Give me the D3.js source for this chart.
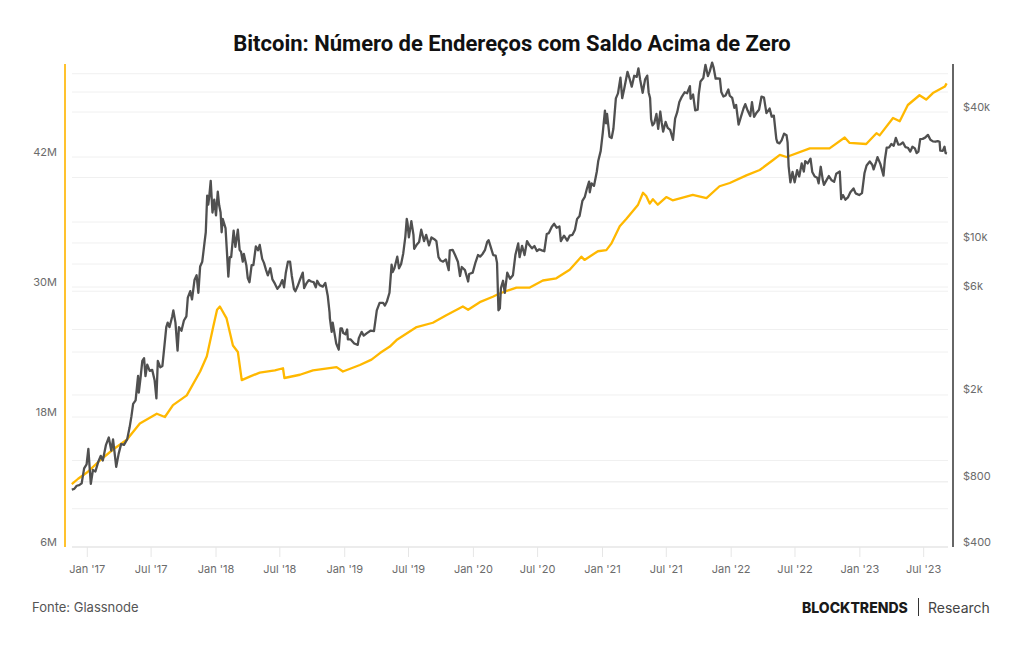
<!DOCTYPE html>
<html>
<head>
<meta charset="utf-8">
<script src="https://cdn.jsdelivr.net/npm/d3@7"></script>
<style>
  body { margin: 0; background: #fff; }
  svg { display: block; }
</style>
</head>
<body>
<svg id="chart" width="1024" height="645"></svg>
<script>
// preço do bitcoin (USD, eixo direito, escala log)
const priceSeries = [
  ["2016-11-18",735],["2016-11-25",740],["2016-12-02",765],["2016-12-09",770],["2016-12-16",785],["2016-12-23",920],
  ["2016-12-30",960],["2017-01-04",1130],["2017-01-08",910],["2017-01-11",780],["2017-01-17",905],["2017-01-24",890],
  ["2017-02-01",985],["2017-02-08",1050],["2017-02-14",1000],["2017-02-23",1180],["2017-03-03",1275],["2017-03-10",1110],
  ["2017-03-15",1250],["2017-03-24",935],["2017-03-31",1075],["2017-04-07",1190],["2017-04-15",1180],["2017-04-24",1250],
  ["2017-05-01",1420],["2017-05-06",1590],["2017-05-11",1820],["2017-05-18",1890],["2017-05-25",2450],["2017-05-27",2050],
  ["2017-06-01",2400],["2017-06-06",2870],["2017-06-11",2950],["2017-06-15",2440],["2017-06-20",2760],["2017-06-27",2580],
  ["2017-07-04",2610],["2017-07-11",2330],["2017-07-16",1930],["2017-07-20",2870],["2017-07-27",2680],["2017-08-02",2720],
  ["2017-08-08",3400],["2017-08-13",4100],["2017-08-17",4300],["2017-08-22",4100],["2017-08-30",4600],["2017-09-02",4900],
  ["2017-09-08",4300],["2017-09-14",3200],["2017-09-18",4100],["2017-09-25",3950],["2017-10-02",4400],["2017-10-09",4600],
  ["2017-10-13",5600],["2017-10-20",6000],["2017-10-25",5500],["2017-11-01",6750],["2017-11-07",7100],["2017-11-12",5900],
  ["2017-11-17",7800],["2017-11-23",8200],["2017-11-29",9900],["2017-12-03",11200],["2017-12-07",16500],["2017-12-10",15000],
  ["2017-12-13",16400],["2017-12-17",19300],["2017-12-22",13800],["2017-12-27",15800],["2018-01-01",13400],["2018-01-06",17200],
  ["2018-01-10",14900],["2018-01-14",13800],["2018-01-17",11200],["2018-01-20",12900],["2018-01-28",11700],["2018-02-01",9100],
  ["2018-02-05",7000],["2018-02-09",8600],["2018-02-13",8600],["2018-02-20",11400],["2018-02-25",9600],["2018-03-04",11500],
  ["2018-03-09",9300],["2018-03-13",9100],["2018-03-18",8200],["2018-03-21",8900],["2018-03-28",7900],["2018-04-01",6900],
  ["2018-04-06",6600],["2018-04-12",7900],["2018-04-17",7900],["2018-04-24",9650],["2018-04-30",9250],["2018-05-05",9800],
  ["2018-05-12",8450],["2018-05-17",8100],["2018-05-23",7500],["2018-05-28",7100],["2018-06-04",7650],["2018-06-10",6800],
  ["2018-06-17",6500],["2018-06-24",6150],["2018-07-01",6350],["2018-07-08",6750],["2018-07-13",6250],["2018-07-18",7300],
  ["2018-07-24",8200],["2018-07-30",8200],["2018-08-04",7050],["2018-08-10",6150],["2018-08-14",6000],["2018-08-20",6300],
  ["2018-08-26",6700],["2018-09-04",7300],["2018-09-08",6200],["2018-09-14",6500],["2018-09-21",6750],["2018-09-28",6650],
  ["2018-10-05",6600],["2018-10-11",6250],["2018-10-15",6700],["2018-10-22",6400],["2018-10-31",6300],["2018-11-07",6550],
  ["2018-11-14",5700],["2018-11-19",4800],["2018-11-20",4500],["2018-11-25",3900],["2018-11-28",4300],["2018-12-03",3850],
  ["2018-12-08",3450],["2018-12-15",3230],["2018-12-20",4050],["2018-12-24",4050],["2018-12-28",3850],["2019-01-03",3800],
  ["2019-01-08",4000],["2019-01-10",3600],["2019-01-18",3600],["2019-01-28",3450],["2019-02-07",3400],["2019-02-10",3650],
  ["2019-02-18",3900],["2019-02-24",3750],["2019-03-05",3850],["2019-03-15",3950],["2019-03-25",3930],["2019-04-02",4900],
  ["2019-04-10",5300],["2019-04-20",5300],["2019-04-25",5150],["2019-05-01",5400],["2019-05-08",5900],["2019-05-14",7950],
  ["2019-05-17",7350],["2019-05-22",7650],["2019-05-30",8650],["2019-06-04",7650],["2019-06-10",8000],["2019-06-16",8950],
  ["2019-06-22",10700],["2019-06-26",12900],["2019-06-28",12400],["2019-07-02",10600],["2019-07-09",12600],["2019-07-15",10900],
  ["2019-07-17",9400],["2019-07-24",9800],["2019-07-31",10100],["2019-08-06",11500],["2019-08-14",10200],["2019-08-20",10900],
  ["2019-08-28",9750],["2019-09-04",10600],["2019-09-12",10400],["2019-09-18",10200],["2019-09-24",8600],["2019-09-30",8300],
  ["2019-10-07",8200],["2019-10-15",8400],["2019-10-23",7500],["2019-10-26",9250],["2019-11-03",9300],["2019-11-10",8800],
  ["2019-11-18",8200],["2019-11-24",7050],["2019-11-29",7750],["2019-12-08",7500],["2019-12-17",6650],["2019-12-20",7200],
  ["2019-12-30",7300],["2020-01-07",8150],["2020-01-14",8800],["2020-01-20",8650],["2020-01-27",8900],["2020-02-03",9300],
  ["2020-02-09",10100],["2020-02-13",10300],["2020-02-19",9600],["2020-02-26",8800],["2020-03-04",8750],["2020-03-08",8100],
  ["2020-03-12",4900],["2020-03-16",5000],["2020-03-19",6200],["2020-03-25",6700],["2020-03-30",5900],["2020-04-06",7300],
  ["2020-04-14",6850],["2020-04-22",7100],["2020-04-29",8800],["2020-05-07",9950],["2020-05-11",8600],["2020-05-18",9700],
  ["2020-05-25",8800],["2020-06-01",10200],["2020-06-08",9750],["2020-06-15",9450],["2020-06-22",9680],["2020-06-29",9180],
  ["2020-07-06",9350],["2020-07-13",9250],["2020-07-20",9160],["2020-07-27",11000],["2020-08-02",11100],["2020-08-10",11850],
  ["2020-08-17",12250],["2020-08-24",11750],["2020-09-01",11900],["2020-09-05",10200],["2020-09-14",10800],["2020-09-23",10250],
  ["2020-09-30",10800],["2020-10-08",10900],["2020-10-15",11500],["2020-10-21",12900],["2020-10-28",13300],["2020-11-05",15600],
  ["2020-11-12",16300],["2020-11-18",17800],["2020-11-24",19150],["2020-11-26",17100],["2020-12-01",18800],["2020-12-08",18300],
  ["2020-12-16",21300],["2020-12-20",23800],["2020-12-27",26500],["2021-01-02",32200],["2021-01-08",40600],["2021-01-11",35500],
  ["2021-01-14",39200],["2021-01-21",30800],["2021-01-27",30400],["2021-02-01",33500],["2021-02-08",46200],["2021-02-14",48700],
  ["2021-02-21",57500],["2021-02-26",46300],["2021-03-03",50500],["2021-03-13",61200],["2021-03-18",57600],["2021-03-25",52300],
  ["2021-04-01",58700],["2021-04-08",58000],["2021-04-13",63500],["2021-04-18",56200],["2021-04-25",49000],["2021-05-02",56600],
  ["2021-05-08",58800],["2021-05-12",49200],["2021-05-16",46400],["2021-05-19",37000],["2021-05-23",34700],["2021-05-28",35600],
  ["2021-06-03",39200],["2021-06-08",33500],["2021-06-14",40200],["2021-06-18",35800],["2021-06-22",32500],["2021-06-29",36000],
  ["2021-07-05",33800],["2021-07-12",33100],["2021-07-20",29800],["2021-07-26",37300],["2021-08-01",39900],["2021-08-07",44500],
  ["2021-08-14",47000],["2021-08-22",49300],["2021-08-29",48800],["2021-09-06",52600],["2021-09-08",46000],["2021-09-15",48100],
  ["2021-09-21",40700],["2021-09-28",41000],["2021-10-01",48200],["2021-10-06",55300],["2021-10-14",57300],["2021-10-20",65900],
  ["2021-10-27",58500],["2021-11-01",61300],["2021-11-08",67500],["2021-11-12",64200],["2021-11-18",56900],["2021-11-24",57100],
  ["2021-11-30",57000],["2021-12-04",49400],["2021-12-10",47100],["2021-12-16",47600],["2021-12-24",50800],["2021-12-28",47500],
  ["2022-01-04",46400],["2022-01-10",41800],["2022-01-15",43100],["2022-01-22",35000],["2022-01-28",37700],["2022-02-05",41500],
  ["2022-02-10",43500],["2022-02-17",40500],["2022-02-24",38300],["2022-03-01",44400],["2022-03-07",38000],["2022-03-14",39700],
  ["2022-03-21",41000],["2022-03-28",47100],["2022-04-04",46600],["2022-04-11",39500],["2022-04-20",41500],["2022-04-26",38100],
  ["2022-05-02",38500],["2022-05-09",30100],["2022-05-12",29000],["2022-05-18",28700],["2022-05-24",29600],["2022-05-31",31800],
  ["2022-06-07",31300],["2022-06-10",29000],["2022-06-13",22500],["2022-06-18",19000],["2022-06-24",21200],["2022-06-30",19000],
  ["2022-07-07",21600],["2022-07-13",20200],["2022-07-20",23200],["2022-07-26",21300],["2022-07-30",23800],["2022-08-06",23200],
  ["2022-08-14",24400],["2022-08-19",21200],["2022-08-26",20200],["2022-09-02",19950],["2022-09-06",18800],["2022-09-12",22400],
  ["2022-09-18",19400],["2022-09-21",18500],["2022-09-28",19400],["2022-10-05",20300],["2022-10-13",19400],["2022-10-20",19100],
  ["2022-10-26",20800],["2022-11-05",21300],["2022-11-09",15900],["2022-11-14",16600],["2022-11-21",15800],["2022-11-28",16200],
  ["2022-12-05",17100],["2022-12-14",17800],["2022-12-20",16900],["2022-12-30",16600],["2023-01-07",16950],["2023-01-14",20900],
  ["2023-01-20",22700],["2023-01-29",23700],["2023-02-05",22900],["2023-02-09",21800],["2023-02-16",23600],["2023-02-20",24800],
  ["2023-02-28",23100],["2023-03-09",20400],["2023-03-13",24200],["2023-03-18",27400],["2023-03-25",27500],["2023-03-31",28500],
  ["2023-04-07",28000],["2023-04-13",30400],["2023-04-20",28300],["2023-04-26",28400],["2023-05-03",29000],["2023-05-10",27600],
  ["2023-05-17",27400],["2023-05-24",26300],["2023-05-30",27700],["2023-06-06",27200],["2023-06-11",25900],["2023-06-16",26300],
  ["2023-06-21",30000],["2023-06-28",30100],["2023-07-05",30500],["2023-07-13",31400],["2023-07-20",29800],["2023-07-27",29300],
  ["2023-08-03",29200],["2023-08-10",29400],["2023-08-15",29200],["2023-08-17",26600],["2023-08-24",26500],["2023-08-29",27700],
  ["2023-09-01",25900],["2023-09-05",25800]
];

// endereços com saldo > 0 (milhões, eixo esquerdo)
const addressSeries = [
  ["2016-11-18",11.8],["2016-12-06",12.3],["2017-01-01",12.9],["2017-02-06",14.0],["2017-03-15",15.0],["2017-04-23",15.9],
  ["2017-05-30",17.4],["2017-07-17",18.3],["2017-08-09",18.0],["2017-09-01",19.1],["2017-10-10",20.0],["2017-11-17",22.2],
  ["2017-12-06",23.6],["2017-12-24",26.3],["2018-01-04",27.9],["2018-01-12",28.2],["2018-01-31",27.1],["2018-02-18",24.6],
  ["2018-03-04",24.0],["2018-03-15",21.4],["2018-04-05",21.7],["2018-05-05",22.1],["2018-06-17",22.3],["2018-07-10",22.5],
  ["2018-07-14",21.6],["2018-08-27",21.9],["2018-10-03",22.3],["2018-12-09",22.6],["2018-12-27",22.2],["2019-02-13",22.8],
  ["2019-03-18",23.3],["2019-04-11",23.9],["2019-05-09",24.5],["2019-05-28",25.1],["2019-07-24",26.3],["2019-09-08",26.7],
  ["2019-10-16",27.4],["2019-12-02",28.2],["2019-12-17",27.9],["2020-01-19",28.6],["2020-02-25",29.1],["2020-03-15",29.4],
  ["2020-05-02",29.95],["2020-06-09",29.95],["2020-07-16",30.6],["2020-08-23",30.8],["2020-09-30",31.6],["2020-11-02",32.8],
  ["2020-11-11",32.5],["2020-12-19",33.3],["2021-01-12",33.4],["2021-01-26",34.0],["2021-02-19",35.6],["2021-03-10",36.3],
  ["2021-04-12",37.6],["2021-04-26",38.7],["2021-05-05",38.4],["2021-05-15",37.7],["2021-05-24",38.1],["2021-06-07",37.6],
  ["2021-07-01",38.3],["2021-07-19",38.0],["2021-09-14",38.5],["2021-10-23",38.2],["2021-11-29",39.3],["2021-12-28",39.6],
  ["2022-02-13",40.3],["2022-03-23",40.8],["2022-04-29",41.7],["2022-05-19",42.2],["2022-06-07",42.0],["2022-08-12",42.8],
  ["2022-10-07",42.8],["2022-11-19",43.8],["2022-12-03",43.3],["2023-01-19",43.2],["2023-02-17",44.2],["2023-02-26",44.0],
  ["2023-04-05",45.6],["2023-04-24",45.3],["2023-05-17",46.8],["2023-06-19",47.7],["2023-07-08",47.3],["2023-07-27",47.9],
  ["2023-08-30",48.5],["2023-09-04",48.8]
];

const xTickDates = ["2017-01-01","2017-07-01","2018-01-01","2018-07-01","2019-01-01","2019-07-01","2020-01-01",
  "2020-07-01","2021-01-01","2021-07-01","2022-01-01","2022-07-01","2023-01-01","2023-07-01"];
const leftTicks = [6, 18, 30, 42];               // milhões, com rótulo
const leftGrid = [6, 12, 18, 24, 30, 36, 42, 48];
const rightTicks = [400, 800, 2000, 6000, 10000, 40000];
const rightGrid = [400, 600, 800, 1000, 2000, 4000, 6000, 8000, 10000, 20000, 40000, 60000];

const svg = d3.select("#chart");
const plot = { left: 72, right: 948, top: 64, bottom: 547 };
const parse = d3.utcParse("%Y-%m-%d");

svg.append("rect").attr("width", 1024).attr("height", 645).attr("fill", "#fff");

const x = d3.scaleUtc()
  .domain([parse("2017-01-01"), parse("2023-07-01")])
  .range([87.3, 923.7]);
const yLeft = d3.scaleLinear().domain([6, 42]).range([547, 157]);
const yRight = d3.scaleLog().domain([400, 40000]).range([547, 112]);

// grade
const grid = svg.append("g");
grid.selectAll(".gl").data(leftGrid.slice(1)).join("line")
  .attr("x1", plot.left).attr("x2", plot.right)
  .attr("y1", d => yLeft(d)).attr("y2", d => yLeft(d))
  .attr("stroke", "#f0f0f0").attr("stroke-width", 1);
grid.selectAll(".gr").data(rightGrid.slice(1)).join("line")
  .attr("x1", plot.left).attr("x2", plot.right)
  .attr("y1", d => yRight(d)).attr("y2", d => yRight(d))
  .attr("stroke", "#f0f0f0").attr("stroke-width", 1);

// eixo x
svg.append("line")
  .attr("x1", plot.left).attr("x2", plot.right)
  .attr("y1", plot.bottom).attr("y2", plot.bottom)
  .attr("stroke", "#e6e6e6").attr("stroke-width", 1.5);
const fmt = d3.utcFormat("%b '%y");
const xg = svg.append("g");
xg.selectAll("line").data(xTickDates).join("line")
  .attr("x1", d => x(parse(d))).attr("x2", d => x(parse(d)))
  .attr("y1", plot.bottom).attr("y2", plot.bottom + 10)
  .attr("stroke", "#e6e6e6");
xg.selectAll("text").data(xTickDates).join("text")
  .attr("x", d => x(parse(d))).attr("y", 573)
  .attr("text-anchor", "middle")
  .attr("font-family", "Inter, sans-serif").attr("font-size", 11).attr("fill", "#6b6b6b")
  .text(d => fmt(parse(d)));

// eixo esquerdo
svg.append("line")
  .attr("x1", 65).attr("x2", 65).attr("y1", plot.top).attr("y2", plot.bottom)
  .attr("stroke", "#ffc22e").attr("stroke-width", 2);
svg.append("g").selectAll("text").data(leftTicks).join("text")
  .attr("x", 57).attr("y", d => yLeft(d) - 1.5)
  .attr("text-anchor", "end")
  .attr("font-family", "Inter, sans-serif").attr("font-size", 11).attr("fill", "#6b6b6b")
  .text(d => d + "M");

// eixo direito
svg.append("line")
  .attr("x1", 953).attr("x2", 953).attr("y1", plot.top).attr("y2", plot.bottom)
  .attr("stroke", "#666").attr("stroke-width", 2);
svg.append("g").selectAll("text").data(rightTicks).join("text")
  .attr("x", 963).attr("y", d => yRight(d) - 1.5)
  .attr("font-family", "Inter, sans-serif").attr("font-size", 11).attr("fill", "#6b6b6b")
  .text(d => d >= 1000 ? "$" + d / 1000 + "k" : "$" + d);

// séries
const addrLine = d3.line()
  .x(d => x(parse(d[0]))).y(d => yLeft(d[1]));
const priceLine = d3.line()
  .x(d => x(parse(d[0]))).y(d => yRight(d[1]));

svg.append("path").datum(addressSeries)
  .attr("d", addrLine)
  .attr("fill", "none").attr("stroke", "#ffb800").attr("stroke-width", 2.3)
  .attr("stroke-linejoin", "round");
svg.append("path").datum(priceSeries)
  .attr("d", priceLine)
  .attr("fill", "none").attr("stroke", "#505050").attr("stroke-width", 2.3)
  .attr("stroke-linejoin", "round");

// título
svg.append("text")
  .attr("x", 512).attr("y", 51)
  .attr("text-anchor", "middle")
  .attr("font-family", "Roboto, sans-serif").attr("font-weight", 700).attr("font-size", 22)
  .attr("fill", "#111")
  .text("Bitcoin: Número de Endereços com Saldo Acima de Zero");

// rodapé
svg.append("text")
  .attr("x", 32).attr("y", 612)
  .attr("font-family", "Inter, sans-serif").attr("font-size", 13).attr("fill", "#555")
  .text("Fonte: Glassnode");
svg.append("text")
  .attr("x", 802).attr("y", 612.5)
  .attr("font-family", "Inter, sans-serif").attr("font-weight", 800).attr("font-size", 14)
  .attr("fill", "#1a1a1a")
  .text("BLOCKTRENDS");
svg.append("line")
  .attr("x1", 918.5).attr("x2", 918.5).attr("y1", 598).attr("y2", 616)
  .attr("stroke", "#333").attr("stroke-width", 1);
svg.append("text")
  .attr("x", 928).attr("y", 612.5)
  .attr("font-family", "Inter, sans-serif").attr("font-size", 14).attr("fill", "#444")
  .text("Research");
</script>
</body>
</html>
